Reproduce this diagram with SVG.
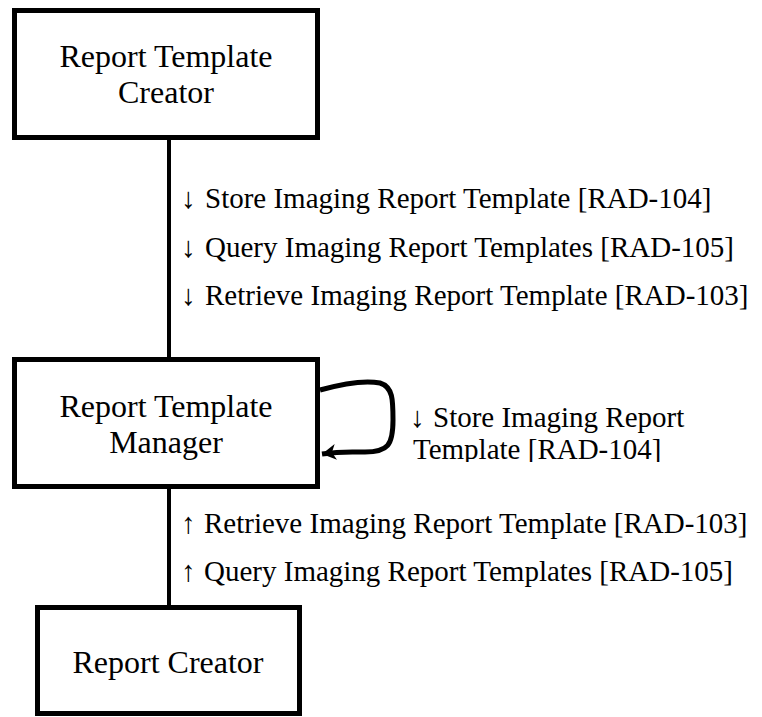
<svg xmlns="http://www.w3.org/2000/svg" width="762" height="717" viewBox="0 0 762 717">
<style>
.box{fill:#fff;stroke:#000;stroke-width:5}
text{font-family:'Liberation Serif','Times New Roman',Times,'DejaVu Serif','Noto Serif',serif;fill:#000}
.title{font-size:32px;text-anchor:middle}
.lbl{font-size:29px}
.conn{fill:none;stroke:#000;stroke-width:4}
.loop{fill:none;stroke:#000;stroke-width:5}
</style>
<defs>
<marker id="ah" markerUnits="userSpaceOnUse" markerWidth="20" markerHeight="20" refX="14" refY="8" orient="auto">
<path d="M0,0 L14,8 L0,16 L4,8 Z" fill="#000"/>
</marker>
<clipPath id="clipLoop"><rect x="400" y="380" width="362" height="82"/></clipPath>
</defs>
<rect width="762" height="717" fill="#fff"/>
<g id="connectors">
<line class="conn" x1="169" y1="140" x2="169" y2="357"/>
<line class="conn" x1="169" y1="489" x2="169" y2="605"/>
<path class="loop" d="M320,390 C345,383 365,380 380,383 C393,387 393,400 393,420 C393,445 388,452 365,452 C350,452 342,451 322,454" marker-end="url(#ah)"/>
<text class="lbl" x="181" y="208">↓<tspan x="205">Store Imaging Report Template [RAD-104]</tspan></text>
<text class="lbl" x="181" y="257">↓<tspan x="205">Query Imaging Report Templates [RAD-105]</tspan></text>
<text class="lbl" x="181" y="305">↓<tspan x="205">Retrieve Imaging Report Template [RAD-103]</tspan></text>
<g clip-path="url(#clipLoop)">
<text class="lbl" x="410" y="427">↓<tspan x="433">Store Imaging Report</tspan></text>
<text class="lbl" x="413" y="459">Template [RAD-104]</text>
</g>
<text class="lbl" x="181" y="533">↑<tspan x="204">Retrieve Imaging Report Template [RAD-103]</tspan></text>
<text class="lbl" x="181" y="581">↑<tspan x="204">Query Imaging Report Templates [RAD-105]</tspan></text>
</g>
<g id="creator">
<rect class="box" x="14.5" y="10.5" width="303" height="127"/>
<text class="title" x="166" y="67">Report Template</text>
<text class="title" x="166" y="103">Creator</text>
</g>
<g id="manager">
<rect class="box" x="14.5" y="359.5" width="303" height="127"/>
<text class="title" x="166" y="417">Report Template</text>
<text class="title" x="166" y="453">Manager</text>
</g>
<g id="reportCreator">
<rect class="box" x="37.5" y="607.5" width="262" height="106"/>
<text class="title" x="168" y="673">Report Creator</text>
</g>
</svg>
